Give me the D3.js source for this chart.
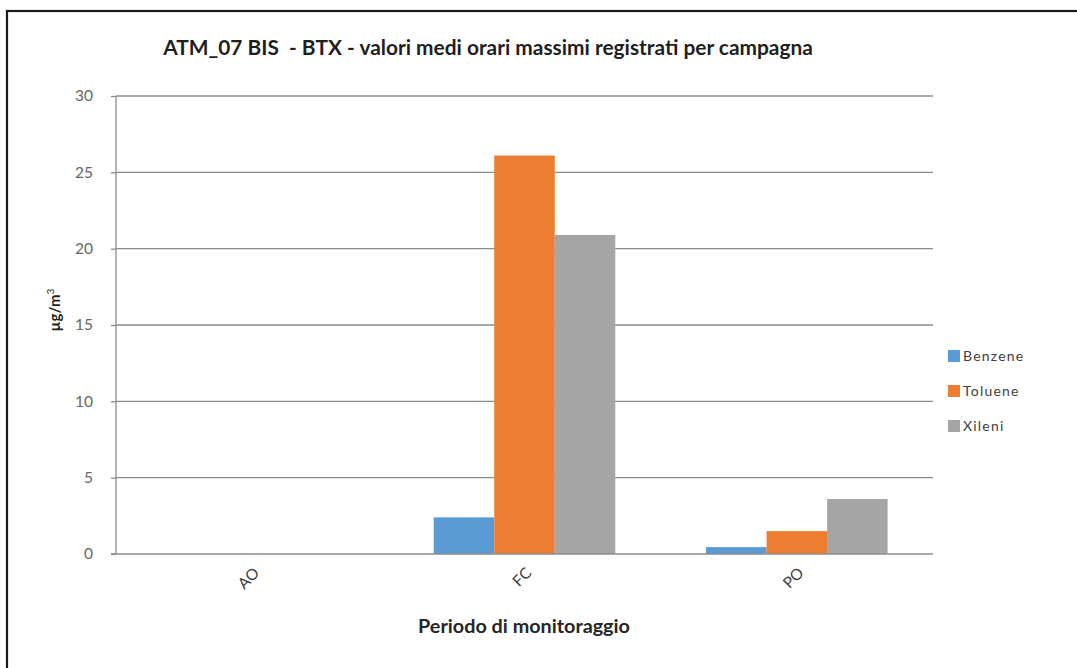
<!DOCTYPE html>
<html>
<head>
<meta charset="utf-8">
<script src="https://cdn.jsdelivr.net/npm/d3@7"></script>
<style>
  html, body { margin: 0; padding: 0; background: #fff; }
  svg { display: block; font-family: Lato, "Open Sans", sans-serif; }
</style>
</head>
<body>
<svg id="chart" width="1077" height="668"></svg>
<script>
// Campaign periods and pollutant series (µg/m³, max hourly mean per campaign)
const periods = ["AO", "FC", "PO"];
const seriesNames = ["Benzene", "Toluene", "Xileni"];
const benzene = [0, 2.4, 0.45];
const toluene = [0, 26.1, 1.5];
const xileni = [0, 20.9, 3.6];
const yTicks = [0, 5, 10, 15, 20, 25, 30];
const colors = ["#5B9BD5", "#ED7D31", "#A5A5A5"];

const titleText = "ATM_07 BIS  - BTX - valori medi orari massimi registrati per campagna";
const yTitle = "µg/m";
const xTitle = "Periodo di monitoraggio";

const values = [benzene, toluene, xileni];

const svg = d3.select("#chart");

// Fit a text element to a target width by adjusting its font size
function fitWidth(sel, target) {
  const node = sel.node();
  const fs = parseFloat(sel.attr("font-size"));
  const w = node.getComputedTextLength();
  sel.attr("font-size", (fs * target / w).toFixed(2));
}

// Outer frame
svg.append("rect")
  .attr("x", 7).attr("y", 11)
  .attr("width", 1100).attr("height", 700)
  .attr("fill", "#fff")
  .attr("stroke", "#1a1a1a").attr("stroke-width", 2.2);

const plot = { left: 116, right: 933, top: 96, bottom: 554 };

const x0 = d3.scaleBand().domain(periods).range([plot.left, plot.right]).paddingInner(0).paddingOuter(0);
// Gap width of 150%: the three bars fill 3/4.5 of each category band
const x1 = d3.scaleBand().domain(seriesNames)
  .range([0, x0.bandwidth()]).paddingInner(0).paddingOuter(0.75);
const y = d3.scaleLinear().domain([0, 30]).range([plot.bottom, plot.top]);

// Horizontal gridlines
svg.append("g").selectAll("line").data(yTicks.filter(d => d > 0)).join("line")
  .attr("x1", plot.left).attr("x2", plot.right)
  .attr("y1", d => y(d)).attr("y2", d => y(d))
  .attr("stroke", "#8c8c8c").attr("stroke-width", 1.3);

// Bars
const groups = svg.append("g").selectAll("g").data(periods).join("g")
  .attr("transform", d => `translate(${x0(d)},0)`);
groups.selectAll("rect")
  .data((p, i) => seriesNames.map((s, k) => ({ s, k, v: values[k][i] })))
  .join("rect")
  .attr("x", d => x1(d.s))
  .attr("width", x1.bandwidth())
  .attr("y", d => y(d.v))
  .attr("height", d => y(0) - y(d.v))
  .attr("fill", d => colors[d.k]);

// Axis lines
svg.append("line")
  .attr("x1", plot.left).attr("x2", plot.left)
  .attr("y1", plot.top).attr("y2", plot.bottom)
  .attr("stroke", "#8c8c8c").attr("stroke-width", 1.3);
svg.append("line")
  .attr("x1", plot.left - 5).attr("x2", plot.right)
  .attr("y1", plot.bottom).attr("y2", plot.bottom)
  .attr("stroke", "#8c8c8c").attr("stroke-width", 1.3);

// Y tick marks and labels
const yAxis = d3.axisLeft(y).tickValues(yTicks).tickSize(5).tickPadding(18);
const gy = svg.append("g").attr("transform", `translate(${plot.left},0)`).call(yAxis);
gy.select(".domain").remove();
gy.selectAll(".tick line").attr("stroke", "#8c8c8c").attr("stroke-width", 1.3);
gy.selectAll(".tick text")
  .attr("font-family", "Lato, sans-serif")
  .attr("font-size", 15.5).attr("fill", "#666");

// X tick labels, rotated
const xAxis = d3.axisBottom(x0).tickSize(0).tickPadding(0);
const gx = svg.append("g").attr("transform", `translate(0,${plot.bottom})`).call(xAxis);
gx.select(".domain").remove();
gx.selectAll(".tick text")
  .attr("font-family", "Lato, sans-serif")
  .attr("font-size", 15.5).attr("fill", "#404040")
  .attr("text-anchor", "end")
  .attr("dy", null).attr("y", 0)
  .attr("transform", "translate(8,20) rotate(-45)");

// Title
const title = svg.append("text")
  .attr("x", 488).attr("y", 55)
  .attr("text-anchor", "middle")
  .attr("font-size", 24).attr("font-weight", 700)
  .attr("fill", "#1f1f1f")
  .attr("xml:space", "preserve")
  .style("white-space", "pre")
  .text(titleText);
fitWidth(title, 650);

// Y axis title with superscript
const yt = svg.append("text")
  .attr("transform", "translate(60,310) rotate(-90)")
  .attr("text-anchor", "middle")
  .attr("font-size", 15).attr("font-weight", 700)
  .attr("fill", "#1f1f1f");
yt.append("tspan").text(yTitle);
yt.append("tspan").attr("dy", -6).attr("font-size", 10).attr("font-weight", 400).text("3");

// X axis title
const xt = svg.append("text")
  .attr("x", 524).attr("y", 633)
  .attr("text-anchor", "middle")
  .attr("font-size", 17).attr("font-weight", 700)
  .attr("fill", "#262626")
  .text(xTitle);
fitWidth(xt, 212);

// Legend
const legend = svg.append("g").selectAll("g").data(seriesNames).join("g")
  .attr("transform", (d, i) => `translate(948,${356 + i * 35})`);
legend.append("rect")
  .attr("x", 0).attr("y", -6).attr("width", 12).attr("height", 12)
  .attr("fill", (d, i) => colors[i]);
legend.append("text")
  .attr("x", 15).attr("y", 5)
  .attr("font-size", 14).attr("letter-spacing", 1.2)
  .attr("fill", "#404040")
  .text(d => d);
</script>
</body>
</html>
